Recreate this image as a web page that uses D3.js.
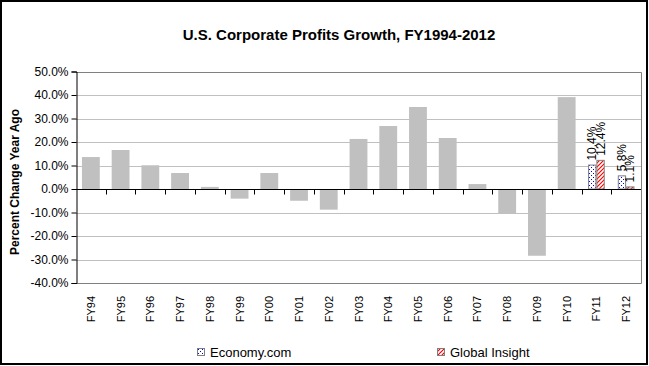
<!DOCTYPE html>
<html>
<head>
<meta charset="utf-8">
<script src="https://cdn.jsdelivr.net/npm/d3@7"></script>
<style>
  body { margin: 0; background: #fff; }
  text { font-family: Arial, "Liberation Sans", sans-serif; }
</style>
</head>
<body>
<svg id="chart" width="649" height="366"></svg>
<script>
var categories = ["FY94","FY95","FY96","FY97","FY98","FY99","FY00","FY01","FY02","FY03",
                  "FY04","FY05","FY06","FY07","FY08","FY09","FY10","FY11","FY12"];
// actual growth (gray bars), forecasts only for FY11 / FY12
var actual = [13.6, 16.6, 10.1, 6.8, 0.9, -4.1, 6.8, -5.0, -8.8, 21.3,
              26.8, 34.9, 21.7, 2.1, -10.3, -28.4, 39.1, null, null];
var economyCom = [null,null,null,null,null,null,null,null,null,null,
                  null,null,null,null,null,null,null, 10.4, 5.8];
var globalInsight = [null,null,null,null,null,null,null,null,null,null,
                     null,null,null,null,null,null,null, 12.4, 1.1];
var seriesNames = ["Economy.com", "Global Insight"];
var yTicks = [-40, -30, -20, -10, 0, 10, 20, 30, 40, 50];

var svg = d3.select("#chart");

// outer frame
svg.append("rect")
  .attr("x", 1).attr("y", 1)
  .attr("width", 646).attr("height", 363)
  .attr("fill", "#fff")
  .attr("stroke", "#000")
  .attr("stroke-width", 2);

// fill patterns
var defs = svg.append("defs");
var dots = defs.append("pattern")
  .attr("id", "dots")
  .attr("width", 4).attr("height", 4)
  .attr("patternUnits", "userSpaceOnUse");
dots.append("rect").attr("width", 4).attr("height", 4).attr("fill", "#fff");
dots.append("rect").attr("x", 1).attr("y", 1).attr("width", 1).attr("height", 1)
  .attr("fill", "#0000ff").attr("shape-rendering", "crispEdges");
dots.append("rect").attr("x", 3).attr("y", 3).attr("width", 1).attr("height", 1)
  .attr("fill", "#0000ff").attr("shape-rendering", "crispEdges");

var hatch = defs.append("pattern")
  .attr("id", "hatch")
  .attr("width", 4).attr("height", 4)
  .attr("patternUnits", "userSpaceOnUse");
hatch.append("rect").attr("width", 4).attr("height", 4).attr("fill", "#fff");
hatch.append("path")
  .attr("d", "M-1,1 L1,-1 M0,4 L4,0 M3,5 L5,3")
  .attr("stroke", "#ff0000")
  .attr("stroke-width", 1.2);

var fills = {"Economy.com": "url(#dots)", "Global Insight": "url(#hatch)"};

// scales
var x = d3.scaleBand()
  .domain(categories)
  .range([76, 641])
  .padding(0);
var step = x.bandwidth();

var y = d3.scaleLinear()
  .domain([-40, 50])
  .range([283, 71.5]);

var sub = d3.scaleBand()
  .domain(seriesNames)
  .range([step * 0.22, step * 0.78]);

// gridlines
svg.append("g")
  .selectAll("line")
  .data(yTicks)
  .enter()
  .append("line")
  .attr("x1", 76).attr("x2", 641)
  .attr("y1", function(d){ return Math.round(y(d)) + 0.5; })
  .attr("y2", function(d){ return Math.round(y(d)) + 0.5; })
  .attr("stroke", "#c0c0c0");

// plot area frame (top, right, bottom)
svg.append("path")
  .attr("d", "M76," + (Math.round(y(50)) + 0.5) + "H641.5V" + (Math.round(y(-40)) + 0.5) + "H76")
  .attr("fill", "none")
  .attr("stroke", "#808080");

// gray bars
svg.append("g")
  .selectAll("rect")
  .data(categories.map(function(c, i){ return {cat: c, v: actual[i]}; })
        .filter(function(d){ return d.v !== null; }))
  .enter()
  .append("rect")
  .attr("x", function(d){ return x(d.cat) + step * 0.2; })
  .attr("width", step * 0.6)
  .attr("y", function(d){ return y(Math.max(0, d.v)); })
  .attr("height", function(d){ return Math.abs(y(d.v) - y(0)); })
  .attr("fill", "#c0c0c0");

// forecast bars
var forecast = [];
categories.forEach(function(c, i){
  if (economyCom[i] !== null) forecast.push({cat: c, s: "Economy.com", v: economyCom[i]});
  if (globalInsight[i] !== null) forecast.push({cat: c, s: "Global Insight", v: globalInsight[i]});
});

svg.append("g")
  .selectAll("rect")
  .data(forecast)
  .enter()
  .append("rect")
  .attr("x", function(d){ return x(d.cat) + sub(d.s) + 0.5; })
  .attr("width", sub.bandwidth() - 1)
  .attr("y", function(d){ return y(Math.max(0, d.v)) + 0.5; })
  .attr("height", function(d){ return Math.abs(y(d.v) - y(0)) - 0.5; })
  .attr("fill", function(d){ return fills[d.s]; })
  .attr("stroke", "#808080");

// value labels (vertical)
svg.append("g")
  .selectAll("text")
  .data(forecast)
  .enter()
  .append("text")
  .attr("transform", function(d){
    var cx = x(d.cat) + sub(d.s) + sub.bandwidth() / 2 + 4;
    return "translate(" + cx + "," + (y(d.v) - 4) + ") rotate(-90)";
  })
  .attr("font-size", "12px")
  .attr("fill", "#000")
  .text(function(d){ return d.v.toFixed(1) + "%"; });

// y axis
var yAxis = svg.append("g")
  .attr("transform", "translate(76.5,0)")
  .call(d3.axisLeft(y)
    .tickValues(yTicks)
    .tickSize(5)
    .tickPadding(3)
    .tickFormat(function(d){ return d.toFixed(1) + "%"; }));
yAxis.select(".domain").attr("stroke", "#000");
yAxis.selectAll(".tick line").attr("stroke", "#000");
yAxis.selectAll(".tick text")
  .attr("font-size", "12px")
  .attr("font-family", "Arial, 'Liberation Sans', sans-serif")
  .attr("fill", "#000");

// zero line + category ticks
var zeroY = Math.round(y(0)) + 0.5;
svg.append("line")
  .attr("x1", 76).attr("x2", 641)
  .attr("y1", zeroY).attr("y2", zeroY)
  .attr("stroke", "#000");
svg.append("g")
  .selectAll("line")
  .data(categories.slice(0, -1))
  .enter()
  .append("line")
  .attr("x1", function(d){ return Math.round(x(d) + step) + 0.5; })
  .attr("x2", function(d){ return Math.round(x(d) + step) + 0.5; })
  .attr("y1", zeroY).attr("y2", zeroY + 5)
  .attr("stroke", "#000");

// x labels at bottom
var xAxis = svg.append("g")
  .attr("transform", "translate(0,292)")
  .call(d3.axisBottom(x).tickSize(0).tickPadding(0));
xAxis.select(".domain").remove();
xAxis.selectAll(".tick text")
  .attr("font-size", "11px")
  .attr("font-family", "Arial, 'Liberation Sans', sans-serif")
  .attr("fill", "#000")
  .attr("text-anchor", "end")
  .attr("dy", null)
  .attr("y", 0)
  .attr("transform", "translate(4,4) rotate(-90)");

// title
svg.append("text")
  .attr("x", 339).attr("y", 40)
  .attr("text-anchor", "middle")
  .attr("font-size", "15px")
  .attr("font-weight", "bold")
  .text("U.S. Corporate Profits Growth, FY1994-2012");

// y title
svg.append("text")
  .attr("transform", "translate(19,182) rotate(-90)")
  .attr("text-anchor", "middle")
  .attr("font-size", "12px")
  .attr("font-weight", "bold")
  .text("Percent Change Year Ago");

// legend
var legendX = [197, 437];
var legend = svg.append("g")
  .selectAll("g")
  .data(seriesNames)
  .enter()
  .append("g")
  .attr("transform", function(d, i){ return "translate(" + legendX[i] + ",348)"; });
legend.append("rect")
  .attr("x", 0.5).attr("y", 0.5)
  .attr("width", 7).attr("height", 7)
  .attr("fill", function(d){ return fills[d]; })
  .attr("stroke", "#808080");
legend.append("text")
  .attr("x", 13).attr("y", 4)
  .attr("dominant-baseline", "central")
  .attr("font-size", "13px")
  .text(function(d){ return d; });
</script>
</body>
</html>
